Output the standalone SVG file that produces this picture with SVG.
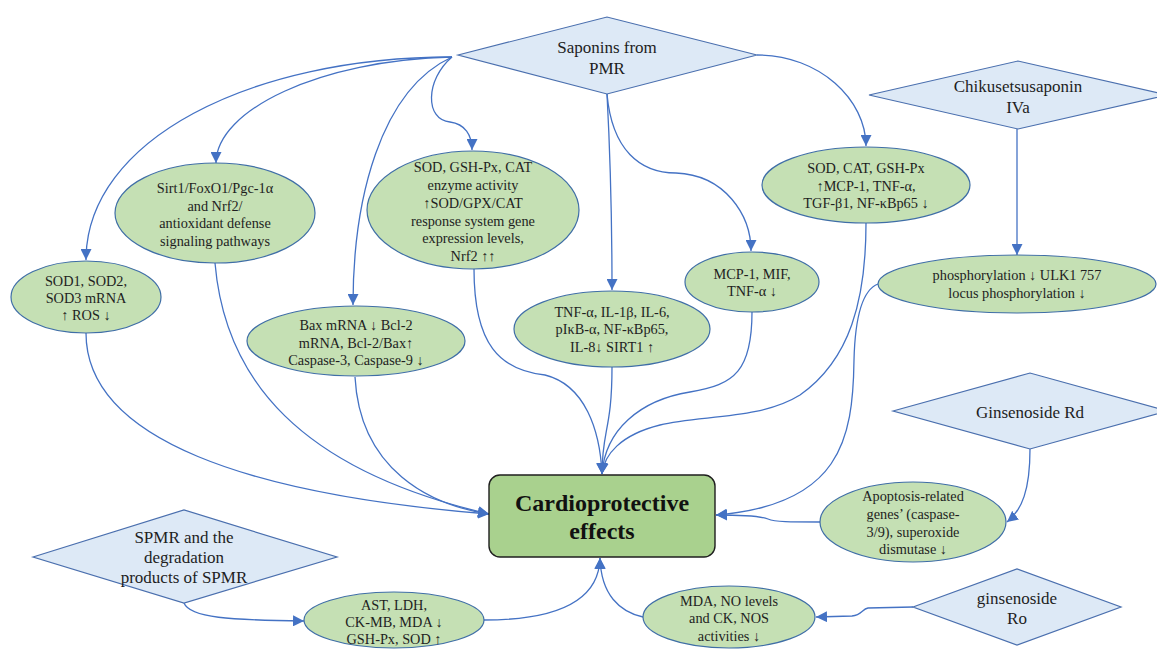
<svg xmlns="http://www.w3.org/2000/svg" width="1157" height="649" viewBox="0 0 1157 649" font-family="Liberation Serif, Tinos, Times New Roman, DejaVu Serif, serif">
<defs>
<style>
.bg{fill:#ffffff}
.ell{fill:#c5e0b4;stroke:#3f6ea6;stroke-width:1.2}
.dia{fill:#dde9f6;stroke:#4a6fae;stroke-width:1.2}
.box{fill:#a9d18e;stroke:#1f1f1f;stroke-width:1.4}
.con{fill:none;stroke:#4472c4;stroke-width:1.3;marker-end:url(#ah)}
text{font-family:'Liberation Serif',Tinos,'Times New Roman','DejaVu Serif',serif;fill:#1e1e1e;text-anchor:middle;dominant-baseline:central}
.t{font-size:14.3px}
.d{font-size:17px}
.b{font-size:24px;font-weight:bold;fill:#111}
</style>
<marker id="ah" viewBox="0 0 10 10" refX="10" refY="5" markerWidth="11" markerHeight="11" markerUnits="userSpaceOnUse" orient="auto">
<path d="M0,0 L10,5 L0,10 z" fill="#4472c4"/>
</marker>
</defs>
<rect class="bg" x="0" y="0" width="1157" height="649"/>

<g id="connectors">
<path class="con" d="M452,57 C250,57 86,140 86,260"/>
<path class="con" d="M452,57 C320,60 216,110 216,163"/>
<path class="con" d="M452,57 C380,90 353,200 353,305"/>
<path class="con" d="M452,57 C425,80 425,120 450,122 C465,124 472,135 472,150"/>
<path class="con" d="M757,55 C820,55 866,100 866,146"/>
<path class="con" d="M607,94 C610,150 612,200 612,290"/>
<path class="con" d="M607,94 C612,150 640,173 676,173 C725,175 751,215 751,251"/>
<path class="con" d="M1017,129 L1017,255"/>
<path class="con" d="M474,269 C474,345 500,370 545,375 C585,385 600,430 602,474"/>
<path class="con" d="M612,367 C612,430 602,430 602,474"/>
<path class="con" d="M752,312 C752,370 735,385 690,392 C640,400 605,430 602,474"/>
<path class="con" d="M866,223 C866,300 850,360 800,395 C760,420 700,415 660,425 C620,435 604,455 602,474"/>
<path class="con" d="M878,284 C862,290 855,320 854,360 C853,440 840,505 716,515"/>
<path class="con" d="M820,522 C790,522 775,522 768,519 C760,516 740,515 716,515"/>
<path class="con" d="M1030,449 C1030,490 1022,510 1007,522"/>
<path class="con" d="M913,607 L868,608 C862,609 862,615 852,616 L816,617"/>
<path class="con" d="M643,617 C620,612 601,595 600,558"/>
<path class="con" d="M484,620 C560,620 599,600 600,558"/>
<path class="con" d="M184,603 C190,618 230,620 304,621"/>
<path class="con" d="M86,333 C86,440 250,495 489,514"/>
<path class="con" d="M215,263 C225,380 300,470 489,514"/>
<path class="con" d="M355,377 C360,470 430,505 489,514"/>
</g>

<g id="saponins">
<polygon class="dia" points="458,55 607,17 757,55 607,94"/>
<text class="d" x="607" y="47">Saponins from</text>
<text class="d" x="607" y="68">PMR</text>
</g>
<g id="chikusetsusaponin">
<polygon class="dia" points="869,95 1018,61 1167,95 1018,129"/>
<text class="d" x="1018" y="86">Chikusetsusaponin</text>
<text class="d" x="1018" y="107">IVa</text>
</g>
<g id="ginsenoside-rd">
<polygon class="dia" points="893,411 1030,373 1167,411 1030,449"/>
<text class="d" x="1030" y="412">Ginsenoside Rd</text>
</g>
<g id="ginsenoside-ro">
<polygon class="dia" points="913,607 1017,569 1121,607 1017,645"/>
<text class="d" x="1017" y="598">ginsenoside</text>
<text class="d" x="1017" y="618">Ro</text>
</g>
<g id="spmr">
<polygon class="dia" points="33,557 184,510 337,557 184,603"/>
<text class="d" x="184" y="537">SPMR and the</text>
<text class="d" x="184" y="557">degradation</text>
<text class="d" x="184" y="577">products of SPMR</text>
</g>

<g id="sod1">
<ellipse class="ell" cx="86" cy="297" rx="75" ry="36"/>
<text class="t" x="86" y="281">SOD1, SOD2,</text>
<text class="t" x="86" y="298">SOD3 mRNA</text>
<text class="t" x="86" y="315">↑ ROS ↓</text>
</g>
<g id="sirt1">
<ellipse class="ell" cx="215" cy="213" rx="100" ry="50"/>
<text class="t" x="215" y="188">Sirt1/FoxO1/Pgc-1α</text>
<text class="t" x="215" y="206">and Nrf2/</text>
<text class="t" x="215" y="223">antioxidant defense</text>
<text class="t" x="215" y="241">signaling pathways</text>
</g>
<g id="sod-gsh">
<ellipse class="ell" cx="473" cy="210" rx="106" ry="59"/>
<text class="t" x="473" y="167">SOD, GSH-Px, CAT</text>
<text class="t" x="473" y="185">enzyme activity</text>
<text class="t" x="473" y="203">↑SOD/GPX/CAT</text>
<text class="t" x="473" y="221">response system gene</text>
<text class="t" x="473" y="238">expression levels,</text>
<text class="t" x="473" y="256">Nrf2 ↑↑</text>
</g>
<g id="sod-cat">
<ellipse class="ell" cx="866" cy="185" rx="104" ry="38"/>
<text class="t" x="866" y="168">SOD, CAT, GSH-Px</text>
<text class="t" x="866" y="186">↑MCP-1, TNF-α,</text>
<text class="t" x="866" y="203">TGF-β1, NF-κBp65 ↓</text>
</g>
<g id="bax">
<ellipse class="ell" cx="356" cy="341" rx="109" ry="35"/>
<text class="t" x="356" y="325">Bax mRNA ↓ Bcl-2</text>
<text class="t" x="356" y="343">mRNA, Bcl-2/Bax↑</text>
<text class="t" x="356" y="360">Caspase-3, Caspase-9 ↓</text>
</g>
<g id="tnf">
<ellipse class="ell" cx="612" cy="329" rx="98" ry="38"/>
<text class="t" x="612" y="312">TNF-α, IL-1β, IL-6,</text>
<text class="t" x="612" y="329">pIκB-α, NF-κBp65,</text>
<text class="t" x="612" y="347">IL-8↓ SIRT1 ↑</text>
</g>
<g id="mcp">
<ellipse class="ell" cx="752" cy="282" rx="67" ry="30"/>
<text class="t" x="752" y="274">MCP-1, MIF,</text>
<text class="t" x="752" y="291">TNF-α ↓</text>
</g>
<g id="phospho">
<ellipse class="ell" cx="1017" cy="284" rx="139" ry="29"/>
<text class="t" x="1017" y="275">phosphorylation ↓ ULK1 757</text>
<text class="t" x="1017" y="293">locus phosphorylation ↓</text>
</g>
<g id="apoptosis">
<ellipse class="ell" cx="913" cy="522" rx="93" ry="40"/>
<text class="t" x="913" y="496">Apoptosis-related</text>
<text class="t" x="913" y="514">genes’ (caspase-</text>
<text class="t" x="913" y="532">3/9), superoxide</text>
<text class="t" x="913" y="549">dismutase ↓</text>
</g>
<g id="mda">
<ellipse class="ell" cx="729" cy="617" rx="86" ry="31"/>
<text class="t" x="729" y="601">MDA, NO levels</text>
<text class="t" x="729" y="618">and CK, NOS</text>
<text class="t" x="729" y="636">activities ↓</text>
</g>
<g id="ast">
<ellipse class="ell" cx="394" cy="620" rx="90" ry="28"/>
<text class="t" x="394" y="605">AST, LDH,</text>
<text class="t" x="394" y="622">CK-MB, MDA ↓</text>
<text class="t" x="394" y="639">GSH-Px, SOD ↑</text>
</g>

<g id="cardioprotective">
<rect class="box" x="489" y="475" width="226" height="82" rx="11" ry="11"/>
<text class="b" x="602" y="503">Cardioprotective</text>
<text class="b" x="602" y="531">effects</text>
</g>
</svg>
